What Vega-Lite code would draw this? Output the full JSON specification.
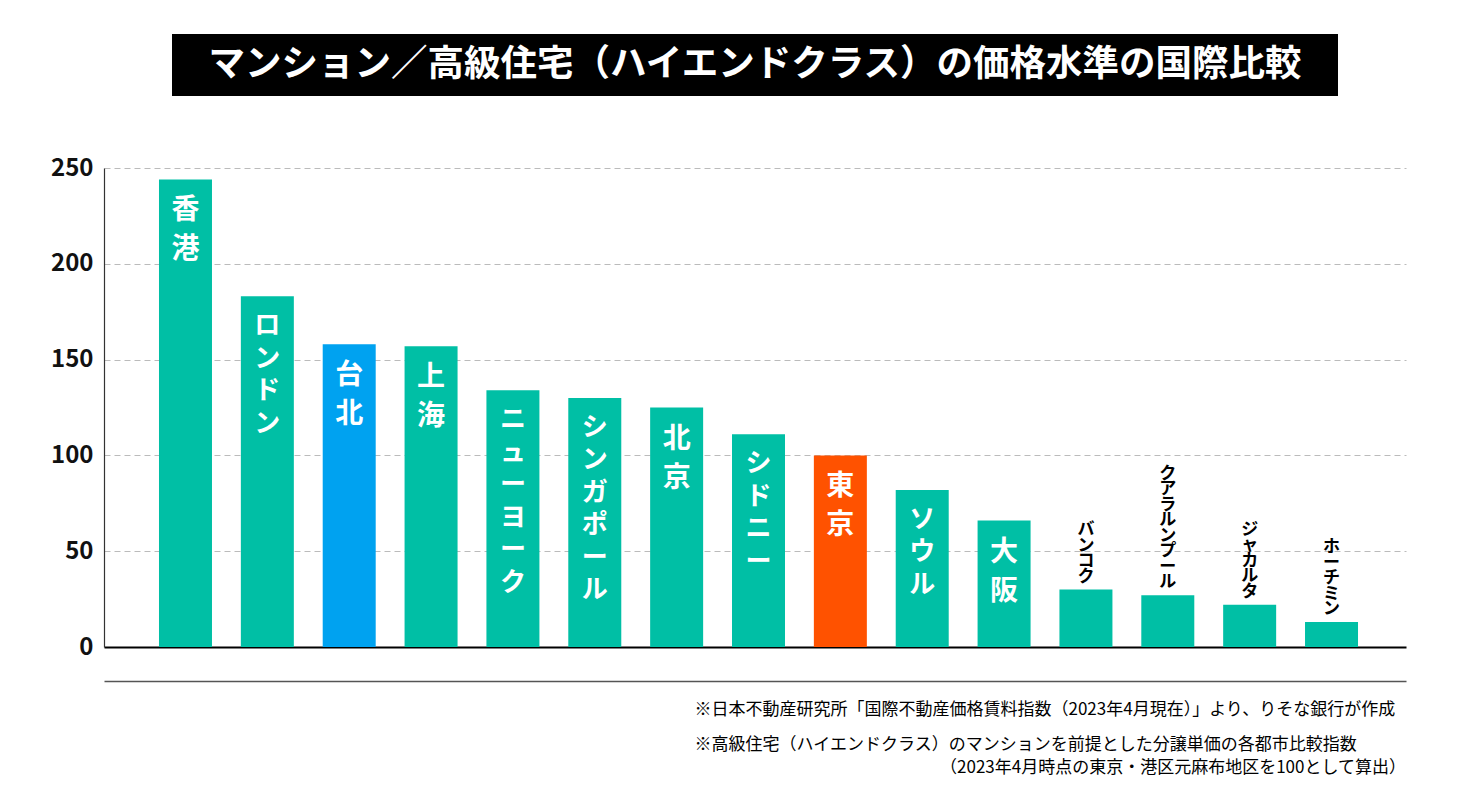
{
  "$schema": "https://vega.github.io/schema/vega-lite/v6.json",
  "background": "white",
  "padding": {"top": 34, "left": 50, "right": 5, "bottom": 5},
  "config": {"font": "Noto Sans CJK JP", "view": {"stroke": null}},
  "spacing": 60,
  "center": true,
  "vconcat": [
    {
      "width": 1166,
      "height": 62,
      "view": {"fill": "black", "stroke": null},
      "data": {"values": [{"title": "マンション／高級住宅（ハイエンドクラス）の価格水準の国際比較"}]},
      "mark": {"type": "text", "color": "white", "fontSize": 36.5, "fontWeight": "bold", "align": "center", "baseline": "middle"},
      "encoding": {"text": {"field": "title"}}
    },
    {
      "width": 1302,
      "height": 479,
      "data": {
        "values": [
          {"city": "香港", "value": 244, "label": "香\n港"},
          {"city": "ロンドン", "value": 183, "label": "ロ\nン\nド\nン"},
          {"city": "台北", "value": 158, "label": "台\n北"},
          {"city": "上海", "value": 157, "label": "上\n海"},
          {"city": "ニューヨーク", "value": 134, "label": "ニ\nュ\nー\nヨ\nー\nク"},
          {"city": "シンガポール", "value": 130, "label": "シ\nン\nガ\nポ\nー\nル"},
          {"city": "北京", "value": 125, "label": "北\n京"},
          {"city": "シドニー", "value": 111, "label": "シ\nド\nニ\nー"},
          {"city": "東京", "value": 100, "label": "東\n京"},
          {"city": "ソウル", "value": 82, "label": "ソ\nウ\nル"},
          {"city": "大阪", "value": 66, "label": "大\n阪"},
          {"city": "バンコク", "value": 30, "label": "バ\nン\nコ\nク"},
          {"city": "クアラルンプール", "value": 27, "label": "ク\nア\nラ\nル\nン\nプ\nー\nル"},
          {"city": "ジャカルタ", "value": 22, "label": "ジ\nャ\nカ\nル\nタ"},
          {"city": "ホーチミン", "value": 13, "label": "ホ\nー\nチ\nミ\nン"}
        ]
      },
      "title": {
        "text": "（2023年4月時点の東京・港区元麻布地区を100として算出）",
        "orient": "bottom",
        "anchor": "end",
        "frame": "group",
        "fontSize": 17,
        "fontWeight": "normal",
        "color": "#000000",
        "offset": 8
      },
      "encoding": {
        "x": {
          "field": "city",
          "type": "nominal",
          "sort": null,
          "scale": {"paddingInner": 0.3526, "paddingOuter": 0.629, "align": 0.534},
          "axis": {
            "orient": "bottom",
            "offset": 34,
            "labels": false,
            "ticks": false,
            "domain": true,
            "domainColor": "#555555",
            "domainWidth": 1.5,
            "title": [
              "※日本不動産研究所「国際不動産価格賃料指数（2023年4月現在）」より、りそな銀行が作成",
              "※高級住宅（ハイエンドクラス）のマンションを前提とした分譲単価の各都市比較指数"
            ],
            "titleAlign": "left",
            "titleAnchor": "start",
            "titleX": 590,
            "titleY": 20,
            "titleBaseline": "top",
            "titleFontSize": 17,
            "titleFontWeight": "normal",
            "titleLineHeight": 35,
            "titleColor": "#000000"
          }
        },
        "y": {
          "field": "value",
          "type": "quantitative",
          "scale": {"domain": [0, 250], "nice": false},
          "axis": {
            "title": null,
            "values": [0, 50, 100, 150, 200, 250],
            "labelFontSize": 24,
            "labelFontWeight": "bold",
            "labelColor": "#111111",
            "labelPadding": 11,
            "ticks": false,
            "domain": true,
            "domainColor": "#333333",
            "domainWidth": 1.2,
            "grid": true,
            "gridColor": {"condition": {"test": "datum.value === 0", "value": "#000000"}, "value": "#bbbbbb"},
            "gridDash": {"condition": {"test": "datum.value === 0", "value": []}, "value": [6, 4]},
            "gridWidth": {"condition": {"test": "datum.value === 0", "value": 2}, "value": 1}
          }
        }
      },
      "layer": [
        {
          "mark": {"type": "bar"},
          "encoding": {
            "color": {
              "condition": [
                {"test": "datum.city === '東京'", "value": "#ff5200"},
                {"test": "datum.city === '台北'", "value": "#00a2f0"}
              ],
              "value": "#00bfa5"
            }
          }
        },
        {
          "transform": [{"filter": "datum.value >= 60 && length(datum.city) <= 2"}],
          "mark": {"type": "text", "color": "white", "fontSize": 28, "fontWeight": "bold", "lineHeight": 39, "lineBreak": "\n", "align": "center", "baseline": "top", "dy": 18},
          "encoding": {"text": {"field": "label"}}
        },
        {
          "transform": [{"filter": "datum.value >= 60 && length(datum.city) > 2"}],
          "mark": {"type": "text", "color": "white", "fontSize": 26, "fontWeight": "bold", "lineHeight": 32.5, "lineBreak": "\n", "align": "center", "baseline": "top", "dy": 17},
          "encoding": {"text": {"field": "label"}}
        },
        {
          "transform": [{"filter": "datum.value < 60"}],
          "mark": {"type": "text", "color": "black", "fontSize": 17, "fontWeight": "bold", "lineHeight": 15.5, "lineBreak": "\n", "align": "center", "baseline": "bottom", "dy": {"expr": "-4 - (length(datum.city) - 1) * 15.5"}},
          "encoding": {"text": {"field": "label"}}
        }
      ]
    }
  ]
}
